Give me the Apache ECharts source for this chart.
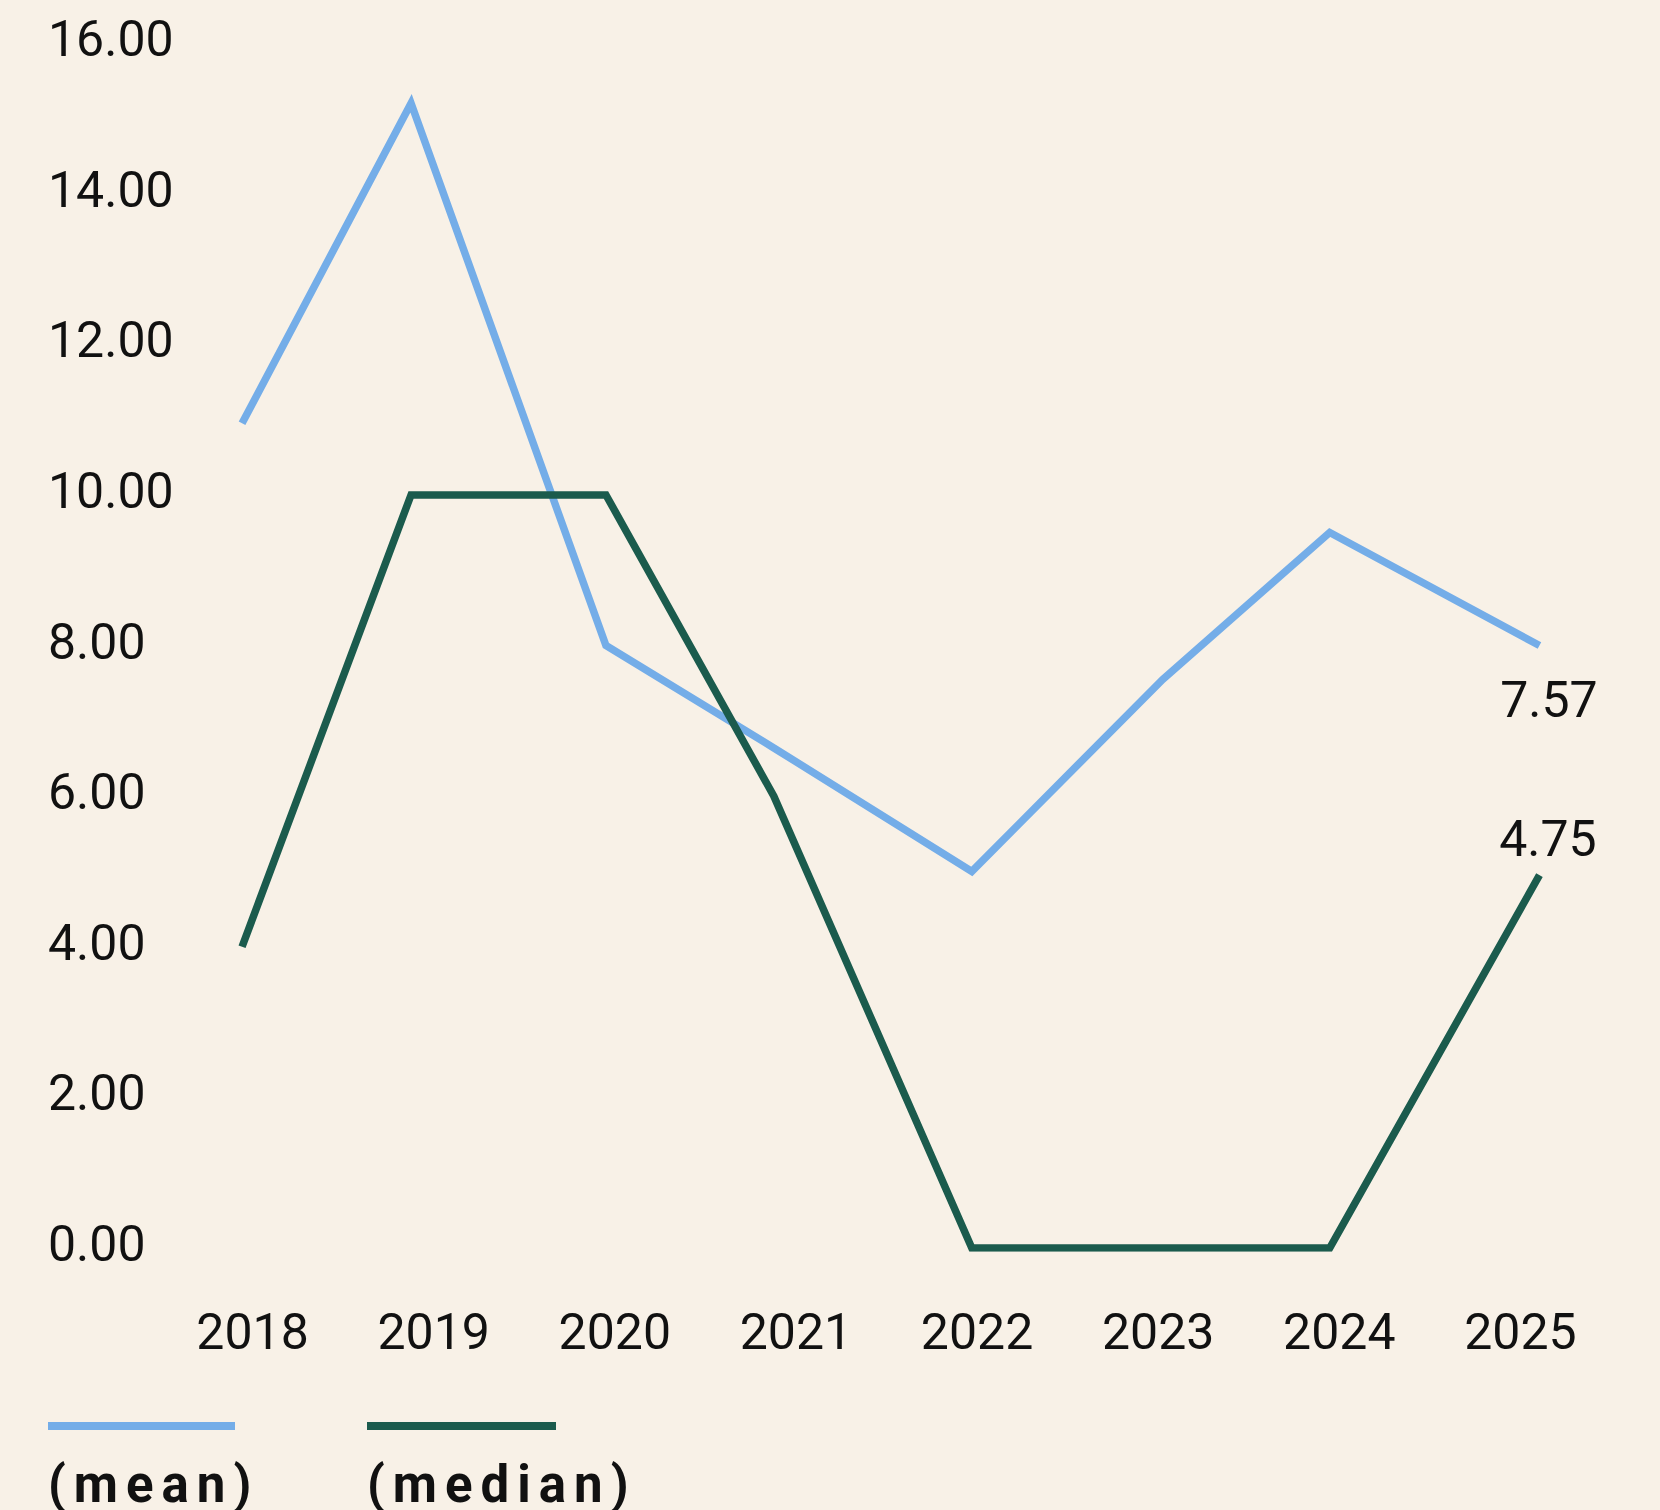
<!DOCTYPE html>
<html>
<head>
<meta charset="utf-8">
<script src="https://cdn.jsdelivr.net/npm/echarts@6/dist/echarts.min.js"></script>
<style>
  html, body { margin: 0; padding: 0; background: #F8F1E7; }
  #chart { width: 1660px; height: 1510px; }
</style>
</head>
<body>
<div id="chart"></div>
<script>
// ---- data ----
const yearLabels = ['2018', '2019', '2020', '2021', '2022', '2023', '2024', '2025'];
const xPositions = [2017.942, 2018.875, 2019.951, 2020.878, 2021.971, 2023.025, 2023.947, 2025.105];
const meanValues = [10.95, 15.2, 8.0, 6.64, 5.0, 7.55, 9.5, 8.0];
const medianValues = [4, 10, 10, 6, 0, 0, 0, 4.95];
const seriesNames = ['(mean)', '(median)'];
const endLabels = ['7.57', '4.75'];
const yMin = 0, yMax = 16, yStep = 2;

const BLUE = '#74ADE8';
const GREEN = '#1B5B4D';
const TEXT = '#111111';
const FONT = 'Roboto';

function buildData(values, endLabel, offset) {
  return values.map((v, i) => {
    const item = { value: [xPositions[i], v] };
    if (i === values.length - 1) {
      item.label = {
        show: true,
        position: 'inside',
        offset: offset,
        formatter: () => endLabel,
        color: TEXT,
        fontFamily: FONT,
        fontSize: 50
      };
    }
    return item;
  });
}

const chart = echarts.init(document.getElementById('chart'), null, { renderer: 'svg' });

const option = {
  animation: false,
  backgroundColor: '#F8F1E7',
  grid: { left: 162, right: 49, top: 43, bottom: 262, containLabel: false },
  xAxis: {
    type: 'value',
    min: 2017.5,
    max: 2025.5,
    axisLine: { show: false },
    axisTick: { show: false },
    splitLine: { show: false },
    axisLabel: {
      customValues: yearLabels.map(Number),
      formatter: v => String(v),
      margin: 59,
      color: TEXT,
      fontFamily: FONT,
      fontSize: 50
    }
  },
  yAxis: {
    type: 'value',
    min: yMin,
    max: yMax,
    interval: yStep,
    axisLine: { show: false },
    axisTick: { show: false },
    splitLine: { show: false },
    axisLabel: {
      formatter: v => '{t|' + v.toFixed(2) + '}',
      align: 'left',
      margin: 114,
      rich: {
        t: {
          color: TEXT,
          fontFamily: FONT,
          fontSize: 50,
          padding: [0, 0, 8, 0]
        }
      }
    }
  },
  series: [
    {
      name: seriesNames[0],
      type: 'line',
      data: buildData(meanValues, endLabels[0], [9.5, 54]),
      symbol: 'circle',
      symbolSize: 0,
      lineStyle: { color: BLUE, width: 7.5, join: 'miter', cap: 'butt' },
      itemStyle: { color: BLUE },
      z: 2
    },
    {
      name: seriesNames[1],
      type: 'line',
      data: buildData(medianValues, endLabels[1], [8.5, -36]),
      symbol: 'circle',
      symbolSize: 0,
      lineStyle: { color: GREEN, width: 7.5, join: 'miter', cap: 'butt' },
      itemStyle: { color: GREEN },
      z: 3
    }
  ],
  graphic: [
    { type: 'rect', left: 48, top: 1422, shape: { width: 187, height: 8 }, style: { fill: BLUE } },
    { type: 'rect', left: 367, top: 1422, shape: { width: 189, height: 8 }, style: { fill: GREEN } },
    { type: 'text', x: 48, y: 1484, style: { text: seriesNames[0], fill: TEXT, font: 'bold 51px Roboto', verticalAlign: 'middle', align: 'left' } },
    { type: 'text', x: 367, y: 1484, style: { text: seriesNames[1], fill: TEXT, font: 'bold 51px Roboto', verticalAlign: 'middle', align: 'left' } }
  ]
};

chart.setOption(option);

function spaceLegend() {
  document.querySelectorAll('#chart svg text').forEach(t => {
    if (seriesNames.indexOf(t.textContent) >= 0) {
      t.setAttribute('letter-spacing', '8');
      t.style.letterSpacing = '8px';
    }
  });
}
spaceLegend();
chart.on('finished', spaceLegend);
setTimeout(spaceLegend, 50);
</script>
</body>
</html>
